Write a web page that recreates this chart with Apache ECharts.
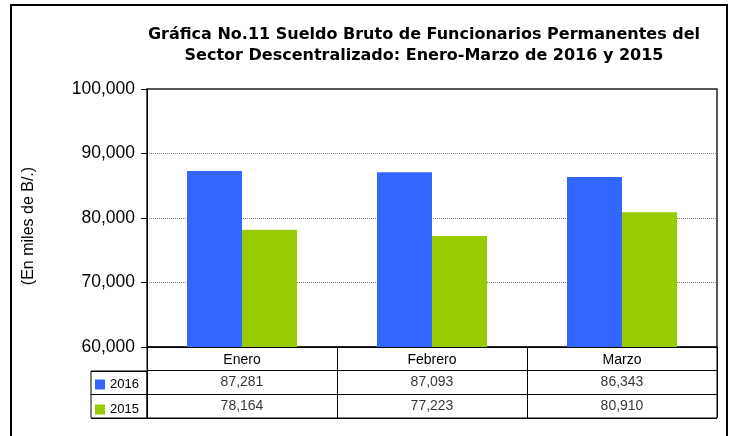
<!DOCTYPE html>
<html>
<head>
<meta charset="utf-8">
<script src="https://cdn.jsdelivr.net/npm/echarts@6/dist/echarts.min.js"></script>
<style>html,body{margin:0;padding:0;background:#fff}#c{width:735px;height:436px}</style>
</head>
<body>
<div id="c"></div>
<script>
const categories = ['Enero', 'Febrero', 'Marzo'];
const seriesNames = ['2016', '2015'];
const values2016 = [87281, 87093, 86343];
const values2015 = [78164, 77223, 80910];
const yMin = 60000, yMax = 100000, yStep = 10000;
const titleText = 'Gráfica No.11 Sueldo Bruto de Funcionarios Permanentes del\nSector Descentralizado: Enero-Marzo de 2016 y 2015';
const yName = '(En miles de B/.)';
const colors = ['#3366FF', '#99CC00'];

const fmt = v => v.toLocaleString('en-US');
const FONT = 'Liberation Sans, Arial, sans-serif';

const tableData = [];
categories.forEach((c, i) => {
  tableData.push([c, seriesNames[0], values2016[i]]);
  tableData.push([c, seriesNames[1], values2015[i]]);
});

const chart = echarts.init(document.getElementById('c'));
chart.setOption({
  animation: false,
  textStyle: { fontFamily: FONT },
  title: {
    text: titleText, left: 424, top: 24, textAlign: 'center', padding: 0,
    textStyle: { fontSize: 16, fontWeight: 'bold', color: '#000', lineHeight: 21, fontFamily: 'DejaVu Sans' }
  },
  legend: {
    data: seriesNames, orient: 'vertical', left: 95, top: 378, padding: 0,
    icon: 'rect', itemWidth: 10, itemHeight: 10, itemGap: 12, selectedMode: false,
    textStyle: { fontSize: 13, color: '#000', fontFamily: FONT }
  },
  graphic: [{
    type: 'rect', shape: { x: 11, y: 5, width: 716, height: 445 },
    style: { fill: null, stroke: '#000', lineWidth: 2 }, silent: true
  }],
  grid: [
    { left: 147, right: 18, top: 89, height: 258, show: true, borderColor: '#222', borderWidth: 1.5 },
    { left: 147, right: 18, top: 347, height: 71, show: true, borderColor: '#000', borderWidth: 1 },
    { left: 91, width: 56, top: 371, height: 47, show: true, borderColor: '#000', borderWidth: 1 }
  ],
  xAxis: [
    { gridIndex: 0, type: 'category', data: categories,
      axisLine: { show: true, lineStyle: { color: '#000', width: 1 } },
      axisTick: { show: false },
      axisLabel: { fontSize: 14, color: '#000', margin: 6, fontFamily: FONT } },
    { gridIndex: 1, type: 'category', data: categories,
      axisLine: { show: false }, axisTick: { show: false }, axisLabel: { show: false },
      splitLine: { show: true, interval: 0, lineStyle: { color: '#000', width: 1 } } },
    { gridIndex: 2, type: 'value', show: false, min: 0, max: 1 }
  ],
  yAxis: [
    { gridIndex: 0, type: 'value', min: yMin, max: yMax, interval: yStep,
      name: yName, nameLocation: 'middle', nameGap: 110, nameRotate: 90,
      nameTextStyle: { fontSize: 16, color: '#000', fontFamily: FONT, padding: [0, 16, 0, 0] },
      axisLine: { show: true, lineStyle: { color: '#000', width: 1 } },
      axisTick: { show: true, length: 6, lineStyle: { color: '#000' } },
      axisLabel: { fontSize: 17.5, color: '#000', margin: 12, formatter: v => fmt(v), fontFamily: FONT },
      splitLine: { show: true, showMinLine: false, showMaxLine: false, lineStyle: { color: '#808080', type: 'dotted', width: 1 } } },
    { gridIndex: 1, type: 'category', data: ['', seriesNames[0], seriesNames[1]], inverse: true,
      axisLine: { show: false }, axisTick: { show: false }, axisLabel: { show: false },
      splitLine: { show: true, interval: 0, lineStyle: { color: '#000', width: 1 } } },
    { gridIndex: 2, type: 'category', data: seriesNames, inverse: true,
      axisLine: { show: false }, axisTick: { show: false }, axisLabel: { show: false },
      splitLine: { show: true, interval: 0, lineStyle: { color: '#000', width: 1 } } }
  ],
  series: [
    { name: seriesNames[0], type: 'bar', xAxisIndex: 0, yAxisIndex: 0, data: values2016,
      barWidth: 55, barGap: '0%', itemStyle: { color: colors[0] } },
    { name: seriesNames[1], type: 'bar', xAxisIndex: 0, yAxisIndex: 0, data: values2015,
      barWidth: 55, barGap: '0%', itemStyle: { color: colors[1] } },
    { type: 'scatter', xAxisIndex: 1, yAxisIndex: 1, data: tableData, symbolSize: 1,
      itemStyle: { color: 'rgba(0,0,0,0)' }, silent: true,
      label: { show: true, position: 'inside', fontSize: 14, color: '#000', fontFamily: FONT,
        formatter: p => fmt(p.value[2]) } }
  ]
});
</script>
</body>
</html>
